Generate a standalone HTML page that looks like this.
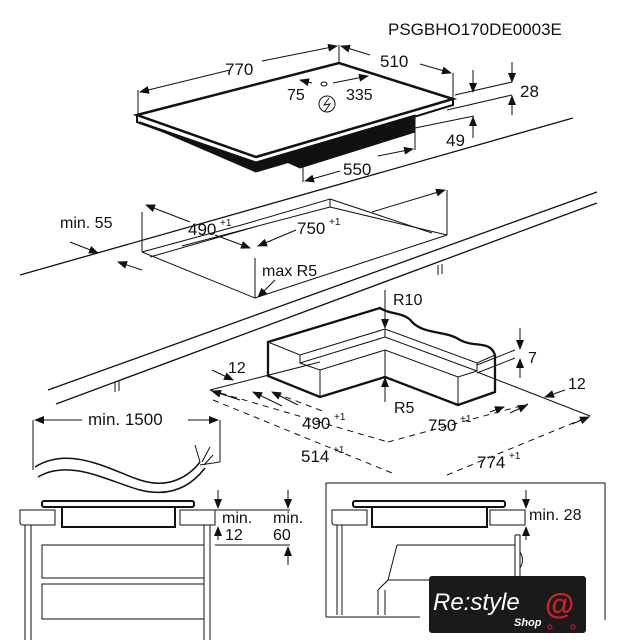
<!DOCTYPE html>
<html><head><meta charset="utf-8"><style>
html,body{margin:0;padding:0;background:#fff}
svg{display:block}
text{font-family:"Liberation Sans",Arial,sans-serif;fill:#111}
</style></head><body>
<svg width="619" height="640" viewBox="0 0 619 640" xmlns="http://www.w3.org/2000/svg">
<defs>
<marker id="a" markerWidth="10" markerHeight="8" refX="9" refY="4" orient="auto" markerUnits="userSpaceOnUse"><path d="M0,0 L10,4 L0,8 z" fill="#111"/></marker>
</defs>
<g stroke="#111" fill="none" stroke-width="1">
<text x="388" y="35" font-size="17" stroke="none">PSGBHO170DE0003E</text>

<!-- hob top -->
<path d="M137,115 L339,63 L453,99 L256,157 Z" stroke-width="2.5"/>
<path d="M137,115 L137,122 L256,165 L453,105 L453,99" stroke-width="2"/>
<path d="M140,122 L256,172 L290,162 L415,125 L415,115 L256,162 Z" fill="#111"/>
<path d="M287,162 L300,168 L415,132 L415,118" fill="#111"/>
<!-- 770 -->
<line x1="138" y1="90" x2="138" y2="114"/><line x1="339" y1="45" x2="339" y2="63"/><line x1="453" y1="73" x2="453" y2="99"/>
<line x1="230" y1="70" x2="140" y2="92" marker-end="url(#a)"/>
<line x1="262" y1="61" x2="337" y2="46" marker-end="url(#a)"/>
<text x="225" y="75" font-size="17" stroke="none">770</text>
<line x1="370" y1="55" x2="341" y2="46" marker-end="url(#a)"/>
<line x1="420" y1="64" x2="451" y2="73" marker-end="url(#a)"/>
<text x="380" y="67" font-size="17" stroke="none">510</text>
<line x1="312" y1="83" x2="300" y2="80" marker-end="url(#a)"/>
<line x1="333" y1="83" x2="368" y2="76" marker-end="url(#a)"/>
<ellipse cx="324" cy="84" rx="3" ry="2"/>
<text x="287" y="100" font-size="16" stroke="none">75</text>
<text x="346" y="100" font-size="16" stroke="none">335</text>
<circle cx="327" cy="104" r="8"/>
<path d="M329,98 L324,105 L330,104 L325,111" />
<!-- 28 / 49 -->
<line x1="455" y1="95" x2="512" y2="82"/><line x1="447" y1="110" x2="512" y2="95"/><line x1="415" y1="128" x2="474" y2="116"/>
<line x1="473" y1="70" x2="473" y2="92" marker-end="url(#a)"/>
<line x1="512" y1="62" x2="512" y2="82" marker-end="url(#a)"/>
<line x1="512" y1="115" x2="512" y2="96" marker-end="url(#a)"/>
<text x="520" y="97" font-size="17" stroke="none">28</text>
<line x1="473" y1="138" x2="473" y2="117" marker-end="url(#a)"/>
<text x="446" y="146" font-size="17" stroke="none">49</text>
<!-- 550 -->
<line x1="303" y1="162" x2="303" y2="182"/><line x1="415" y1="130" x2="415" y2="150"/>
<line x1="340" y1="171" x2="305" y2="181" marker-end="url(#a)"/>
<line x1="378" y1="156" x2="413" y2="149" marker-end="url(#a)"/>
<text x="343" y="175" font-size="17" stroke="none">550</text>

<!-- countertop -->
<line x1="20" y1="275" x2="573" y2="118" stroke-width="1.3"/>
<line x1="48" y1="390" x2="597" y2="192" stroke-width="1.3"/>
<line x1="56" y1="404" x2="597" y2="203" stroke-width="1.3"/>
<!-- cutout -->
<path d="M142,252 L142,212 M142,252 L255,298 L447,235 L447,190 M255,298 L255,258" />
<path d="M142,252 L245,224 M182,246 L330,207 L447,235 M245,224 L330,199 L330,207 M150,257 L258,226"/>
<path d="M330,199 L432,233"/>
<line x1="190" y1="222" x2="146" y2="205" marker-end="url(#a)"/>
<line x1="215" y1="235" x2="250" y2="248" marker-end="url(#a)"/>
<text x="188" y="235" font-size="17" stroke="none">490</text><text x="220" y="226" font-size="10" stroke="none">+1</text>
<line x1="296" y1="230" x2="258" y2="246" marker-end="url(#a)"/>
<line x1="372" y1="212" x2="445" y2="190" marker-end="url(#a)"/>
<text x="297" y="234" font-size="17" stroke="none">750</text><text x="329" y="225" font-size="10" stroke="none">+1</text>
<text x="60" y="228" font-size="16" stroke="none">min. 55</text>
<line x1="70" y1="242" x2="98" y2="253" marker-end="url(#a)"/>
<line x1="142" y1="270" x2="118" y2="262" marker-end="url(#a)"/>
<text x="262" y="276" font-size="16" stroke="none">max R5</text>
<line x1="275" y1="280" x2="258" y2="297" marker-end="url(#a)"/>
<line x1="438" y1="265" x2="438" y2="275"/><line x1="442" y1="264" x2="442" y2="274"/>
<line x1="115" y1="382" x2="115" y2="392"/><line x1="119" y1="381" x2="119" y2="391"/>

<!-- profile block -->
<path d="M268,376 L268,342 L380,308 C390,315 405,312 412,322 C425,335 445,330 460,340 C475,348 490,340 495,355 L495,392 L458,405 L385,377 L320,397 Z" stroke-width="2.3"/>
<path d="M268,342 L300,355 L385,329 L477,363 L495,355 M300,355 L300,363 L385,337 L477,371 M300,363 L320,370 L385,350 L458,377 L477,371 M320,370 L320,397 M385,350 L385,377 M458,377 L458,405 M477,363 L477,371 M385,329 L385,337"/>
<line x1="385" y1="290" x2="385" y2="328" marker-end="url(#a)"/>
<text x="393" y="305" font-size="16" stroke="none">R10</text>
<line x1="385" y1="402" x2="385" y2="378" marker-end="url(#a)"/>
<text x="394" y="413" font-size="16" stroke="none">R5</text>
<text x="528" y="363" font-size="16" stroke="none">7</text>
<line x1="477" y1="365" x2="515" y2="350"/><line x1="477" y1="373" x2="515" y2="358"/>
<line x1="520" y1="328" x2="520" y2="349" marker-end="url(#a)"/>
<line x1="520" y1="378" x2="520" y2="359" marker-end="url(#a)"/>
<line x1="210" y1="390" x2="320" y2="362"/>
<line x1="477" y1="372" x2="590" y2="416"/>
<text x="228" y="373" font-size="16" stroke="none">12</text>
<line x1="212" y1="370" x2="233" y2="380" marker-end="url(#a)"/>
<text x="568" y="389" font-size="16" stroke="none">12</text>
<line x1="565" y1="390" x2="545" y2="397" marker-end="url(#a)"/>
<g stroke-dasharray="6,5">
<line x1="210" y1="390" x2="388" y2="442"/>
<line x1="388" y1="442" x2="528" y2="404"/>
<line x1="213" y1="400" x2="392" y2="473"/>
<line x1="447" y1="475" x2="590" y2="416"/>
<line x1="275" y1="393" x2="325" y2="412"/>
</g>
<line x1="240" y1="400" x2="212" y2="391" marker-end="url(#a)"/>
<line x1="282" y1="406" x2="253" y2="392" marker-end="url(#a)"/>
<line x1="298" y1="405" x2="272" y2="392" marker-end="url(#a)"/>
<line x1="490" y1="412" x2="504" y2="407" marker-end="url(#a)"/>
<line x1="510" y1="413" x2="527" y2="405" marker-end="url(#a)"/>
<line x1="572" y1="424" x2="589" y2="417" marker-end="url(#a)"/>
<text x="302" y="429" font-size="17" stroke="none">490</text><text x="334" y="420" font-size="10" stroke="none">+1</text>
<text x="428" y="431" font-size="17" stroke="none">750</text><text x="460" y="422" font-size="10" stroke="none">+1</text>
<text x="301" y="462" font-size="17" stroke="none">514</text><text x="333" y="453" font-size="10" stroke="none">+1</text>
<text x="477" y="468" font-size="17" stroke="none">774</text><text x="509" y="459" font-size="10" stroke="none">+1</text>

<!-- cable -->
<text x="88" y="425" font-size="17" stroke="none">min. 1500</text>
<line x1="82" y1="420" x2="35" y2="420" marker-end="url(#a)"/>
<line x1="188" y1="420" x2="218" y2="420" marker-end="url(#a)"/>
<path d="M33,420 L33,470 M220,420 L220,462 L200,465"/>
<path d="M35,467 C70,445 110,470 140,480 C170,490 190,475 200,462" stroke-width="1.5"/>
<path d="M38,477 C70,458 110,482 140,490 C172,498 192,485 205,468" stroke-width="1.5"/>
<path d="M200,462 L195,445 M202,462 L210,447 M204,465 L213,455"/>

<!-- bottom left -->
<rect x="42" y="501" width="152" height="6" rx="2" stroke-width="2"/>
<path d="M20,510 L55,510 L55,525 L23,525 Q20,525 20,522 Z M180,510 L215,510 L215,525 L180,525 Z"/>
<path d="M62,508 L62,527 L175,527 L175,508" stroke-width="2"/>
<path d="M25,525 L25,640 M31,525 L31,640 M204,525 L204,640 M210,525 L210,640"/>
<rect x="42" y="545" width="162" height="33"/><rect x="42" y="584" width="162" height="35"/>
<line x1="215" y1="510" x2="290" y2="510"/><line x1="215" y1="545" x2="290" y2="545"/>
<line x1="218" y1="490" x2="218" y2="508" marker-end="url(#a)"/>
<line x1="218" y1="540" x2="218" y2="527" marker-end="url(#a)"/>
<line x1="288" y1="490" x2="288" y2="508" marker-end="url(#a)"/>
<line x1="288" y1="565" x2="288" y2="547" marker-end="url(#a)"/>
<text x="222" y="523" font-size="16" stroke="none">min.</text><text x="225" y="540" font-size="16" stroke="none">12</text>
<text x="273" y="523" font-size="16" stroke="none">min.</text><text x="273" y="540" font-size="16" stroke="none">60</text>

<!-- bottom right -->
<path d="M326,617 L326,483 L605,483 L605,620"/>
<path d="M326,617 L420,617"/>
<rect x="353" y="501" width="152" height="6" rx="2" stroke-width="2"/>
<path d="M332,510 L367,510 L367,525 L335,525 Q332,525 332,522 Z M490,510 L525,510 L525,525 L490,525 Z"/>
<path d="M372,508 L372,527 L487,527 L487,508" stroke-width="2"/>
<path d="M337,525 L337,615 M342,525 L342,615 M515,535 L520,535 L520,620 M515,535 L515,620"/>
<path d="M397,545 L515,545 M397,545 L388,580 L520,580 M388,580 L378,590 L378,615 M385,590 L385,615"/>
<path d="M520,552 Q525,560 520,568"/>
<line x1="526" y1="490" x2="526" y2="508" marker-end="url(#a)"/>
<line x1="526" y1="540" x2="526" y2="527" marker-end="url(#a)"/>
<text x="529" y="520" font-size="16" stroke="none">min. 28</text>
</g>
<!-- logo -->
<rect x="429" y="576" width="157" height="57" rx="3" fill="#1a1a1a"/>
<text x="433" y="610" font-size="24" font-style="italic" style="fill:#fff">Re:style</text>
<text x="514" y="626" font-size="11" font-weight="bold" font-style="italic" style="fill:#fff">Shop</text>
<text x="545" y="614" font-size="30" font-weight="bold" style="fill:#d4202a">@</text>
<circle cx="550" cy="627" r="2" fill="none" stroke="#d4202a"/><circle cx="573" cy="627" r="2" fill="none" stroke="#d4202a"/>
</svg>
</body></html>
